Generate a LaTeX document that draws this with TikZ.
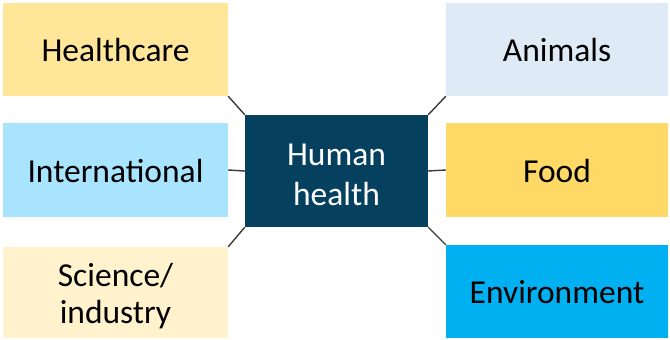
\documentclass[tikz,border=0pt]{standalone}
\usepackage{fontspec}
\setmainfont{Carlito}
\definecolor{hcfill}{HTML}{FFE699}
\definecolor{anfill}{HTML}{DEEBF7}
\definecolor{infill}{HTML}{A9E4FF}
\definecolor{fdfill}{HTML}{FFD966}
\definecolor{scfill}{HTML}{FFF2CC}
\definecolor{envfill}{HTML}{00B0F0}
\definecolor{hubfill}{HTML}{05405E}
\definecolor{linkcol}{HTML}{3A3A3A}
\begin{document}
\begin{tikzpicture}[x=1pt,y=-1pt,
  topic/.style={draw=none, inner sep=0pt, align=center, text=black,
    font=\fontsize{33.5}{37}\selectfont, text height=32.2pt, text depth=7.4pt},
  twoline/.style={text height=#1+32.2pt},
  hub/.style={topic, fill=hubfill, text=white,
    font=\fontsize{33.5}{40}\selectfont},
  link/.style={draw=linkcol, line width=1.4pt}]
\useasboundingbox (0,0) rectangle (670,340);
% outer topics
\node[topic, fill=hcfill, minimum width=225, minimum height=93] (hc) at (115.5,49.5) {Healthcare};
\node[topic, fill=anfill, minimum width=222, minimum height=93] (an) at (557,49.5) {Animals};
\node[topic, fill=infill, minimum width=225, minimum height=94] (in) at (115.5,170) {International};
\node[topic, fill=fdfill, minimum width=222, minimum height=94] (fd) at (557,170) {Food};
\node[topic, twoline=37pt, fill=scfill, minimum width=225, minimum height=91] (sc) at (115.5,292.5) {Science/\\industry};
\node[topic, fill=envfill, minimum width=222, minimum height=93] (env) at (557,291.5) {Environment};
% central topic
\node[hub, twoline=44pt, minimum width=183, minimum height=112] (hh) at (336.5,171) {Human\\health};
% links to the centre
\draw[link] (hc.south east) -- (hh.north west);
\draw[link] (in.east) -- (hh.west);
\draw[link] (sc.north east) -- (hh.south west);
\draw[link] (an.south west) -- (hh.north east);
\draw[link] (fd.west) -- (hh.east);
\draw[link] (env.north west) -- (hh.south east);
\end{tikzpicture}
\end{document}
